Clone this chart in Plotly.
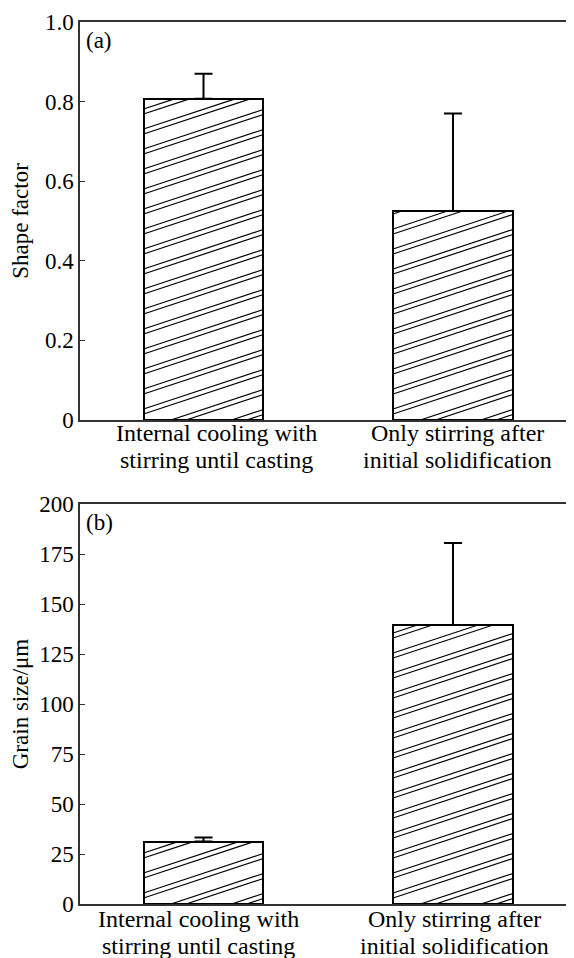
import plotly.graph_objects as go
from plotly.subplots import make_subplots

categories = [["Internal cooling with", "stirring until casting"],
              ["Only stirring after", "initial solidification"]]
shape_factor = [0.807, 0.525]
shape_factor_err = [0.063, 0.245]
grain_size = [31.2, 139.5]
grain_size_err = [2.0, 41.0]
y1_ticks = [0, 0.2, 0.4, 0.6, 0.8, 1.0]
y1_ticktext = ["0", "0.2", "0.4", "0.6", "0.8", "1.0"]
y2_ticks = [0, 25, 50, 75, 100, 125, 150, 175, 200]

# page has an 8px body margin; figure sized so the plot lands where the reference has it
W, H = 566, 950
ML, MR, MT, MB = 72, 0, 14, 54
XR = [-0.495, 1.485]
BW = 0.48
plot_w = W - ML - MR
plot_h = H - MT - MB
pxX = plot_w / (XR[1] - XR[0])
def py(Y):  # page y -> paper y
    return (H - MB + 8 - Y) / plot_h
top_dom = [py(420), 1.0]
bot_dom = [0.0, py(504)]
pxY1 = 398 / 1.0
pxY2 = 400 / 200.0

FONT = "Liberation Serif, Times New Roman, serif"

fig = make_subplots(rows=2, cols=1, vertical_spacing=0.05)

def hatch(values, pxY):
    xs, ys = [], []
    s = 0.33
    P, g = 20.0, 5.0
    for i, v in enumerate(values):
        Wp = BW * pxX
        Hp = v * pxY
        k = -int((s * Wp) / P) - 2
        while k * P <= Hp + P:
            for off in (0.0, g):
                b = k * P + off + 6
                x0 = max(0.0, (0 - b) / s)
                x1 = min(Wp, (Hp - b) / s)
                if x1 > x0 + 0.5:
                    xs += [i - BW / 2 + x0 / pxX, i - BW / 2 + x1 / pxX, None]
                    ys += [(s * x0 + b) / pxY, (s * x1 + b) / pxY, None]
            k += 1
    return xs, ys

for row, vals, errs, pxY in [(1, shape_factor, shape_factor_err, pxY1),
                             (2, grain_size, grain_size_err, pxY2)]:
    fig.add_trace(go.Bar(
        x=[0, 1], y=vals, width=BW,
        marker=dict(color="white", line=dict(color="black", width=2)),
        error_y=dict(type="data", array=errs, arrayminus=[0, 0], symmetric=False,
                     color="black", thickness=2, width=9),
        showlegend=False, hoverinfo="skip"), row=row, col=1)
    hx, hy = hatch(vals, pxY)
    fig.add_trace(go.Scatter(x=hx, y=hy, mode="lines",
                             line=dict(color="black", width=1.2),
                             showlegend=False, hoverinfo="skip"), row=row, col=1)

axis_common = dict(showline=True, linecolor="#333", linewidth=1.5, showgrid=False,
                   zeroline=False, automargin=False,
                   tickfont=dict(family=FONT, size=23, color="black"))

for r in (1, 2):
    fig.update_xaxes(range=XR, tickvals=[0, 1], showticklabels=False, ticks="",
                     mirror=True, row=r, col=1, **axis_common)

fig.update_yaxes(range=[0, 1.0], tickvals=y1_ticks, ticktext=y1_ticktext,
                 ticks="inside", ticklen=5, tickcolor="#333", domain=top_dom,
                 title=dict(text="Shape factor", font=dict(family=FONT, size=23, color="black"), standoff=11),
                 row=1, col=1, **axis_common)
fig.update_yaxes(range=[0, 200], tickvals=y2_ticks,
                 ticks="inside", ticklen=5, tickcolor="#333", domain=bot_dom,
                 title=dict(text="Grain size/μm", font=dict(family=FONT, size=23, color="black"), standoff=9),
                 row=2, col=1, **axis_common)

# category labels (two tightly spaced lines, as in the reference)
label_font = dict(family=FONT, size=24, color="black")
label_rows = [("x", [433, 460], [0.053, 0.02]),
              ("x2", [919, 946], [-0.02, 0.008])]
for xref, ys_px, dxs in label_rows:
    for i, lines in enumerate(categories):
        for line, Y in zip(lines, ys_px):
            fig.add_annotation(text=line, xref=xref, yref="paper", x=i + dxs[i], y=py(Y),
                               xanchor="center", yanchor="middle", showarrow=False,
                               font=label_font)

fig.add_annotation(text="(a)", xref="paper", yref="paper", x=0.008, y=top_dom[1] - 0.004,
                   xanchor="left", yanchor="top", showarrow=False,
                   font=dict(family=FONT, size=23, color="black"))
fig.add_annotation(text="(b)", xref="paper", yref="paper", x=0.008, y=bot_dom[1] - 0.004,
                   xanchor="left", yanchor="top", showarrow=False,
                   font=dict(family=FONT, size=23, color="black"))

fig.update_layout(width=W, height=H, margin=dict(l=ML, r=MR, t=MT, b=MB),
                  plot_bgcolor="white", paper_bgcolor="white", bargap=0,
                  font=dict(family=FONT, color="black"))

fig.write_html("out.html")
